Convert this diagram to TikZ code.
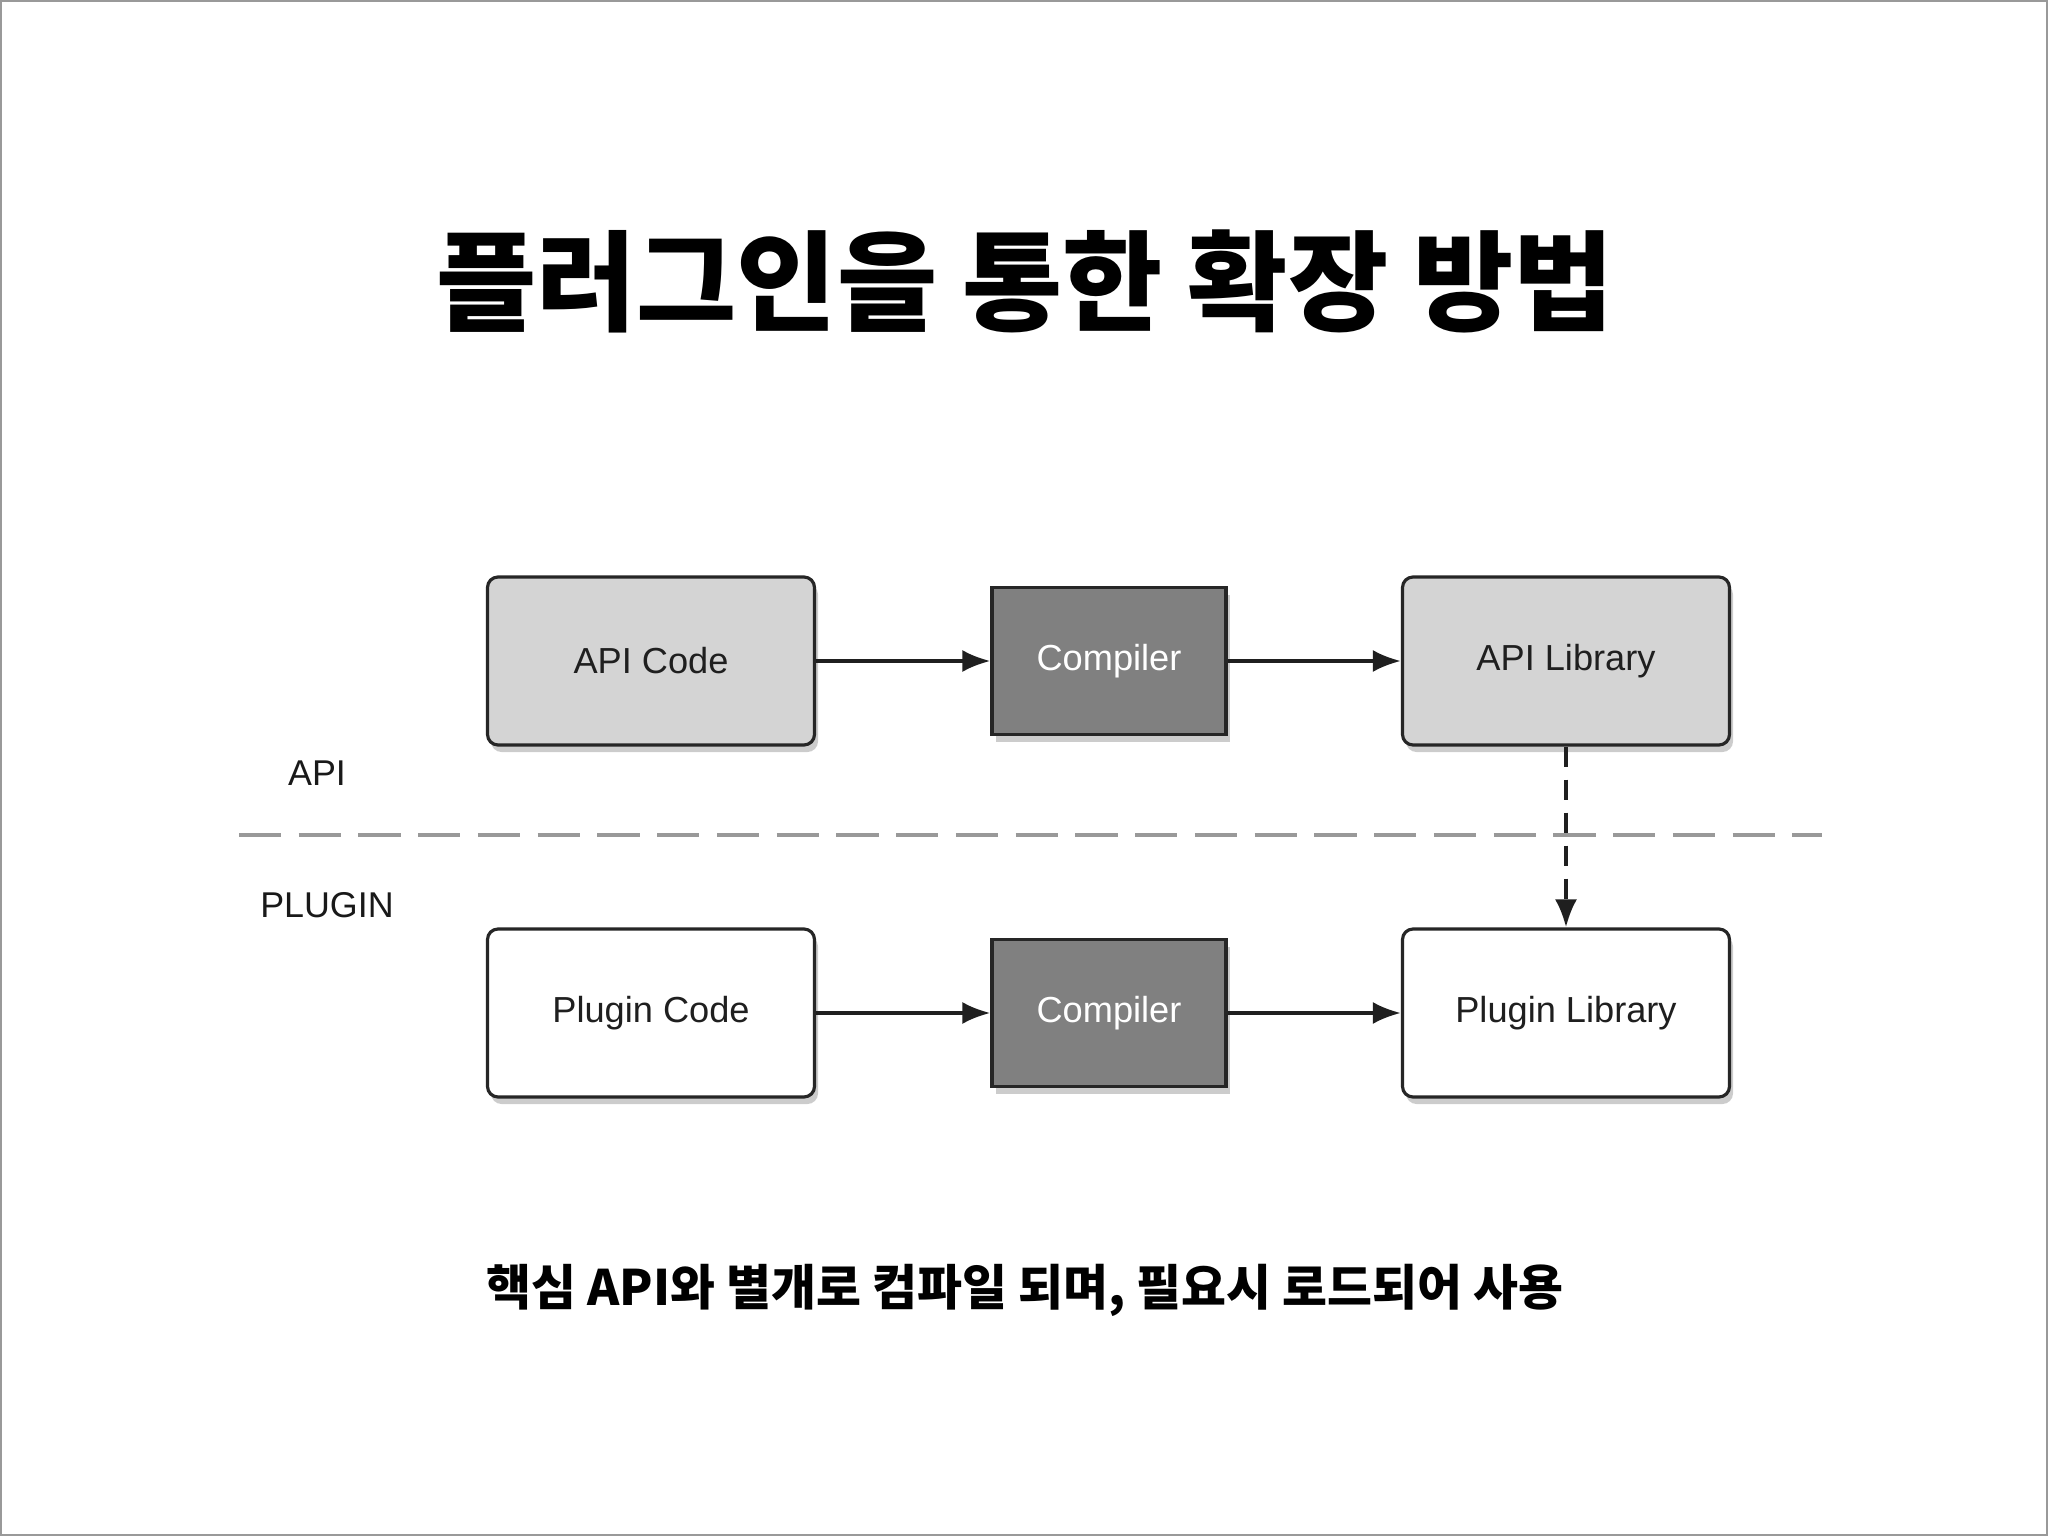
\documentclass[tikz,border=0pt]{standalone}
\usepackage{fontspec}
\setmainfont{Liberation Sans}
\newfontfamily\kofont{Noto Sans CJK KR}
\usetikzlibrary{arrows.meta,shadows}

\begin{document}
\begin{tikzpicture}[
  box/.style={draw=black!85, line width=0.9pt, rounded corners=3pt,
    minimum width=3.27cm, minimum height=1.68cm, text=black!88,
    font=\fontsize{10.3}{12}\selectfont,
    drop shadow={shadow xshift=1pt, shadow yshift=-2pt, opacity=0.4}},
  apibox/.style={box, fill=black!17},
  plugbox/.style={box, fill=white},
  compbox/.style={box, rounded corners=0pt, fill=black!50, text=white,
    minimum width=2.34cm, minimum height=1.47cm},
  flow/.style={-{Latex[length=8pt,width=6.3pt]}, line width=1.05pt, black!88},
  layer/.style={font=\fontsize{10.2}{12}\selectfont, text=black!90},
]
\useasboundingbox (0,0) rectangle (20.48,-15.36);
\draw[black!40, line width=1pt] (0,0) rectangle (20.48,-15.36);

\node[font=\kofont\bfseries\fontsize{31}{36}\selectfont] (title) at (10.25,-2.81) {플러그인을 통한 확장 방법};

\node[apibox] (apicode) at (6.51,-6.61) {API Code};
\node[compbox] (apicomp) at (11.09,-6.61) {Compiler};
\node[apibox] (apilib) at (15.66,-6.61) {API Library};

\node[plugbox] (plugcode) at (6.51,-10.13) {Plugin Code};
\node[compbox] (plugcomp) at (11.09,-10.13) {Compiler};
\node[plugbox] (pluglib) at (15.66,-10.13) {Plugin Library};

\node[layer] (apilabel) at (3.17,-7.73) {API};
\node[layer] (pluglabel) at (3.27,-9.05) {PLUGIN};

\coordinate (sepL) at (2.39,-8.35);
\coordinate (sepR) at (18.22,-8.35);
\draw[black!40, line width=1.1pt, dash pattern=on 12pt off 5pt] (sepL) -- (sepR);

\draw[flow] (apicode) -- (apicomp);
\draw[flow] (apicomp) -- (apilib);
\draw[flow] (plugcode) -- (plugcomp);
\draw[flow] (plugcomp) -- (pluglib);
\draw[flow, line width=1.1pt, dash pattern=on 5.7pt off 3.7pt] (apilib) -- (pluglib);

\node[font=\kofont\bfseries\fontsize{13.9}{16}\selectfont] (note) at (10.25,-12.90) {핵심 API와 별개로 컴파일 되며, 필요시 로드되어 사용};
\end{tikzpicture}
\end{document}
